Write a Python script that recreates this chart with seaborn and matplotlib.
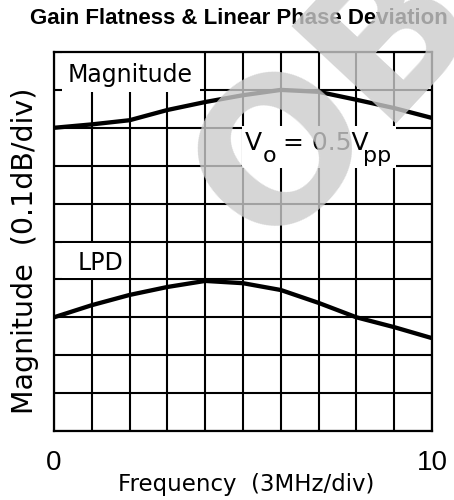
import matplotlib
matplotlib.use("Agg")
import matplotlib.pyplot as plt
from matplotlib.patches import Rectangle
import seaborn as sns
import pandas as pd
import numpy as np

# ---- data (grid divisions) ----
freq_div = [0, 1, 2, 3, 4, 5, 6, 7, 8, 9, 10]
magnitude = [8.0, 8.09, 8.2, 8.47, 8.68, 8.86, 9.0, 8.95, 8.74, 8.52, 8.26]
lpd = [3.0, 3.32, 3.59, 3.8, 3.96, 3.9, 3.72, 3.38, 3.0, 2.74, 2.45]
x_tick_labels = ["0", "", "", "", "", "", "", "", "", "", "10"]

title = "Gain Flatness & Linear Phase Deviation"
x_label = "Frequency  (3MHz/div)"
y_label = "Magnitude  (0.1dB/div)"

df = pd.DataFrame({
    "x": freq_div * 2,
    "y": magnitude + lpd,
    "series": ["Magnitude"] * len(freq_div) + ["LPD"] * len(freq_div),
})

sns.set_style("white")
plt.rcParams["font.family"] = ["DejaVu Sans"]
plt.rcParams["text.color"] = "black"
plt.rcParams["xtick.color"] = "black"
plt.rcParams["axes.labelcolor"] = "black"

W, H = 454, 500
fig = plt.figure(figsize=(W / 100, H / 100), dpi=100)
ax = fig.add_axes([54 / W, 69 / H, 378 / W, 379 / H])

sns.lineplot(data=df, x="x", y="y", units="series", estimator=None,
             color="black", linewidth=3.1, ax=ax, zorder=4, legend=False)

ax.set_xlim(0, 10)
ax.set_ylim(0, 10)
ax.set_xticks(range(11))
ax.set_yticks(range(11))
ax.set_xticklabels(x_tick_labels, fontfamily="Liberation Sans", fontsize=20, color="black")
ax.set_yticklabels([])
ax.tick_params(length=0, pad=14)
ax.set_axisbelow(True)
ax.grid(True, color="black", linewidth=1.5)
for s in ax.spines.values():
    s.set_color("black")
    s.set_linewidth(1.6)
ax.set_xlabel("")
ax.set_ylabel("")

# white label boxes
for (x0, y0, w, h) in [(0.21, 8.95, 3.65, 1.1), (0.2, 4.03, 1.75, 0.92), (4.98, 6.95, 4.07, 1.1)]:
    ax.add_patch(Rectangle((x0, y0), w, h, facecolor="white", edgecolor="none", zorder=1))

ax.text(2.01, 9.21, "Magnitude", ha="center", va="baseline", fontsize=17, zorder=5)
ax.text(1.24, 4.25, "LPD", ha="center", va="baseline", fontsize=17, zorder=5)
ax.text(5.05, 7.41, "V", ha="left", va="baseline", fontsize=18, zorder=5)
ax.text(5.52, 7.1, "o", ha="left", va="baseline", fontsize=16, zorder=5)
ax.text(6.05, 7.41, "= 0.5V", ha="left", va="baseline", fontsize=18, zorder=5)
ax.text(8.18, 7.1, "pp", ha="left", va="baseline", fontsize=16, zorder=5)

fig.text(239 / W, 1 - 18 / H, title, ha="center", va="center", fontsize=16,
         fontweight="bold", fontfamily="Liberation Sans")
fig.text(246 / W, 1 - 484 / H, x_label, ha="center", va="center", fontsize=16.5)
fig.text(25 / W, 1 - 251 / H, y_label, ha="center", va="center", rotation=90, fontsize=20.5)

# watermark
fig.text(0.588, 0.497, "OBSOLETE", rotation=47, rotation_mode="anchor", ha="left",
         va="baseline", fontsize=142, fontweight="bold", fontfamily="DejaVu Sans",
         color="#cccccc", alpha=0.8, zorder=100)

fig.savefig("out.png", dpi=100)
